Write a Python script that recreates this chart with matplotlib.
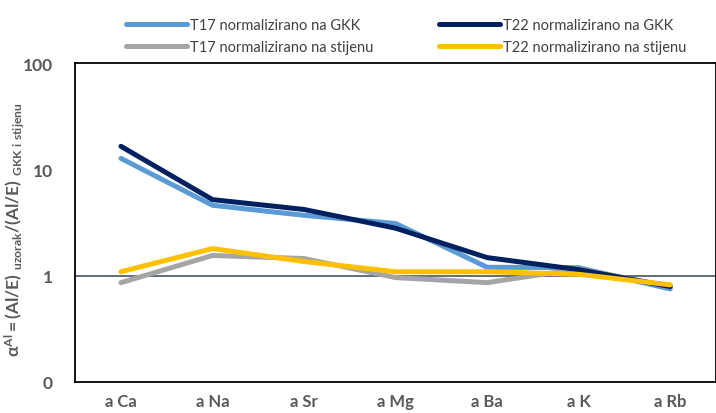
import matplotlib.pyplot as plt
from matplotlib.ticker import FixedLocator, FixedFormatter, NullLocator

plt.rcParams['font.family'] = ['Lato', 'DejaVu Sans']
plt.rcParams['mathtext.fontset'] = 'custom'
plt.rcParams['mathtext.rm'] = 'Lato'
plt.rcParams['mathtext.bf'] = 'Lato:bold'
plt.rcParams['mathtext.it'] = 'Lato:bold'

categories = ["a Ca", "a Na", "a Sr", "a Mg", "a Ba", "a K", "a Rb"]

t17_gkk = [12.7, 4.6, 3.7, 3.1, 1.2, 1.19, 0.75]
t22_gkk = [16.5, 5.2, 4.2, 2.8, 1.48, 1.14, 0.79]
t17_stijena = [0.86, 1.55, 1.45, 0.96, 0.86, 1.16, 0.79]
t22_stijena = [1.09, 1.8, 1.36, 1.09, 1.09, 1.03, 0.82]

y_ticks = [0.1, 1, 10, 100]
y_tick_labels = ["0", "1", "10", "100"]

series = [
    ("T17 normalizirano na GKK", t17_gkk, "#5B9BD5"),
    ("T17 normalizirano na stijenu", t17_stijena, "#A5A5A5"),
    ("T22 normalizirano na GKK", t22_gkk, "#002060"),
    ("T22 normalizirano na stijenu", t22_stijena, "#FFC000"),
]

fig = plt.figure(figsize=(7.16, 4.14), dpi=100)
ax = fig.add_axes([0.105, 0.075, 0.895, 0.77])

x = list(range(len(categories)))
for label, values, color in series:
    ax.plot(x, values, color=color, lw=3.6, solid_capstyle='round',
            solid_joinstyle='round', label=label)

ax.axhline(1, color="#44546A", lw=1.2, zorder=1)

ax.set_yscale('log')
ax.set_ylim(0.1, 100)
ax.set_xlim(-0.5, len(categories) - 0.5)
ax.yaxis.set_major_locator(FixedLocator(y_ticks))
ax.yaxis.set_major_formatter(FixedFormatter(y_tick_labels))
ax.yaxis.set_minor_locator(NullLocator())
ax.set_xticks(x)
ax.set_xticklabels(categories)

ax.tick_params(axis='both', length=0, labelcolor="#595959", labelsize=12.5)
ax.tick_params(axis='y', pad=16)
ax.tick_params(axis='x', pad=8, labelsize=12)
for lbl in ax.get_xticklabels() + ax.get_yticklabels():
    lbl.set_fontweight('bold')

for spine in ax.spines.values():
    spine.set_color('black')
    spine.set_linewidth(1.3)

ax.set_ylabel(r'$\mathbf{\alpha^{Al} = (Al/E)\ _{uzorak}/(Al/E)\ _{GKK\ i\ stijenu}}$',
              color="#595959", fontsize=12.5)
ax.yaxis.set_label_coords(-0.077, 0.48)

fig.legend(loc='upper center', bbox_to_anchor=(0.567, 0.985), ncol=2, frameon=False,
           fontsize=10.5, handlelength=4.2, handletextpad=0.2, columnspacing=4.5,
           labelspacing=0.55, labelcolor="#404040")

fig.savefig("out.png", dpi=100)
